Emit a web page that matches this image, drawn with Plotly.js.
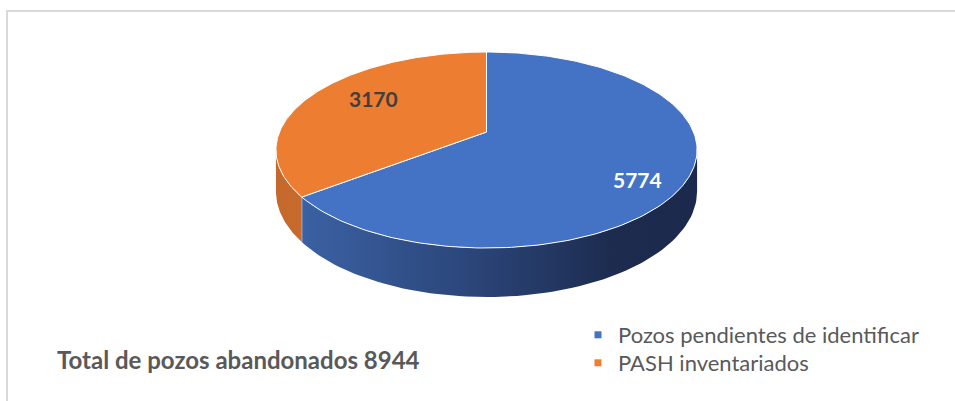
<!DOCTYPE html>
<html>
<head>
<meta charset="utf-8">
<script src="https://cdn.plot.ly/plotly-3.0.1.min.js"></script>
<style>html,body{margin:0;padding:0;background:#fff;}#chart{width:955px;height:401px;}</style>
</head>
<body>
<div id="chart"></div>
<script>
// ---- data ----
const categories = ['Pozos pendientes de identificar', 'PASH inventariados'];
const values = [5774, 3170];
const totalLabel = 'Total de pozos abandonados';

// ---- style ----
const topColors = ['#4472c4', '#ed7d31'];
const sideColors = [
  [[0, '#3b61a3'], [0.45, '#2a4477'], [0.8, '#1c2b4e'], [1, '#1b2a4c']],
  [[0, '#c4682c'], [1, '#c86a2c']]
];
const labelColors = ['#ffffff', '#404040'];
const labelPos = [[637, 179], [373, 98]];
const legendTops = [314, 342];

// ---- projection of a tilted 3D pie (pixel axes) ----
const CX = 486.5, CY = 132, RX = 207, RY = 94.7, K = 0.1837, D = 40;
function proj(tDeg, h, r) {
  if (r === undefined) r = 1;
  const t = tDeg * Math.PI / 180;
  const u = r * Math.cos(t), v = r * Math.sin(t);
  const den = 1 + K * v;
  return [CX + RX * u / den, CY + (-RY * v + D * h) / den];
}

const total = values.reduce((a, b) => a + b, 0);
const slices = [];
let cum = 0;
values.forEach((val, i) => {
  const hi = 90 - cum / total * 360;
  cum += val;
  const lo = 90 - cum / total * 360;
  slices.push({lo, hi});
});

const traces = [];
const visLo = -180 + Math.asin(K) * 180 / Math.PI;
const visHi = -Math.asin(K) * 180 / Math.PI;

// side walls
slices.forEach((s, i) => {
  for (let k = -2; k <= 2; k++) {
    const a = Math.max(s.lo + 360 * k, visLo);
    const b = Math.min(s.hi + 360 * k, visHi);
    if (b <= a) continue;
    const xs = [], ys = [];
    const N = 80;
    for (let j = 0; j <= N; j++) { const p = proj(a + (b - a) * j / N, 0); xs.push(p[0]); ys.push(p[1]); }
    for (let j = N; j >= 0; j--) { const p = proj(a + (b - a) * j / N, 1); xs.push(p[0]); ys.push(p[1]); }
    xs.push(xs[0]); ys.push(ys[0]);
    traces.push({
      type: 'scatter', mode: 'lines', x: xs, y: ys, fill: 'toself',
      fillcolor: topColors[i],
      fillgradient: {type: 'horizontal', colorscale: sideColors[i]},
      line: {width: 0, color: 'rgba(0,0,0,0)'},
      showlegend: false, hoverinfo: 'skip'
    });
    if (Math.abs(a - (s.lo + 360 * k)) < 1e-9) {
      const p0 = proj(a, 0), p1 = proj(a, 1);
      traces.push({type: 'scatter', mode: 'lines', x: [p0[0], p1[0]], y: [p0[1], p1[1]],
        line: {color: 'rgba(255,255,255,0.8)', width: 1}, showlegend: false, hoverinfo: 'skip'});
    }
  }
});

// top faces
slices.forEach((s, i) => {
  const c = proj(0, 0, 0);
  const xs = [c[0]], ys = [c[1]];
  const N = 200;
  for (let j = 0; j <= N; j++) { const p = proj(s.hi - (s.hi - s.lo) * j / N, 0); xs.push(p[0]); ys.push(p[1]); }
  xs.push(c[0]); ys.push(c[1]);
  traces.push({
    type: 'scatter', mode: 'lines', x: xs, y: ys, fill: 'toself',
    fillcolor: topColors[i], line: {color: '#ffffff', width: 1},
    showlegend: false, hoverinfo: 'skip'
  });
});

// legend entries (one legend per row to control spacing)
categories.forEach((name, i) => {
  traces.push({
    type: 'scatter', mode: 'markers', x: [null], y: [null], name: name,
    legend: i === 0 ? 'legend' : 'legend' + (i + 1),
    marker: {symbol: 'square', size: 7, color: topColors[i]},
    hoverinfo: 'skip'
  });
});

const annotations = values.map((v, i) => ({
  x: labelPos[i][0], y: labelPos[i][1], xref: 'x', yref: 'y',
  text: '<b>' + v + '</b>', showarrow: false,
  font: {family: 'Lato, sans-serif', size: 21, color: labelColors[i]},
  xanchor: 'center', yanchor: 'middle'
}));
annotations.push({
  x: 238, y: 359, xref: 'x', yref: 'y',
  text: '<b>' + totalLabel + ' ' + total + '</b>', showarrow: false,
  font: {family: 'Lato, sans-serif', size: 24, color: '#595959'},
  xanchor: 'center', yanchor: 'middle'
});

function legendCfg(top) {
  return {
    x: 578 / 955, y: 1 - top / 401, xanchor: 'left', yanchor: 'top',
    font: {family: 'Lato, sans-serif', size: 22, color: '#595959'},
    bgcolor: 'rgba(0,0,0,0)', borderwidth: 0
  };
}

const layout = {
  width: 955, height: 401,
  margin: {l: 0, r: 0, t: 0, b: 0},
  paper_bgcolor: '#ffffff', plot_bgcolor: 'rgba(0,0,0,0)',
  xaxis: {range: [0, 955], visible: false, fixedrange: true},
  yaxis: {range: [401, 0], visible: false, fixedrange: true},
  showlegend: true,
  legend: legendCfg(legendTops[0]),
  legend2: legendCfg(legendTops[1]),
  annotations: annotations,
  shapes: [{
    type: 'rect', xref: 'x', yref: 'y', x0: 7, y0: 11, x1: 970, y1: 420,
    line: {color: '#d9d9d9', width: 2}, fillcolor: 'rgba(0,0,0,0)', layer: 'below'
  }],
  hovermode: false
};

Plotly.newPlot('chart', traces, layout, {staticPlot: true, displayModeBar: false});
</script>
</body>
</html>
